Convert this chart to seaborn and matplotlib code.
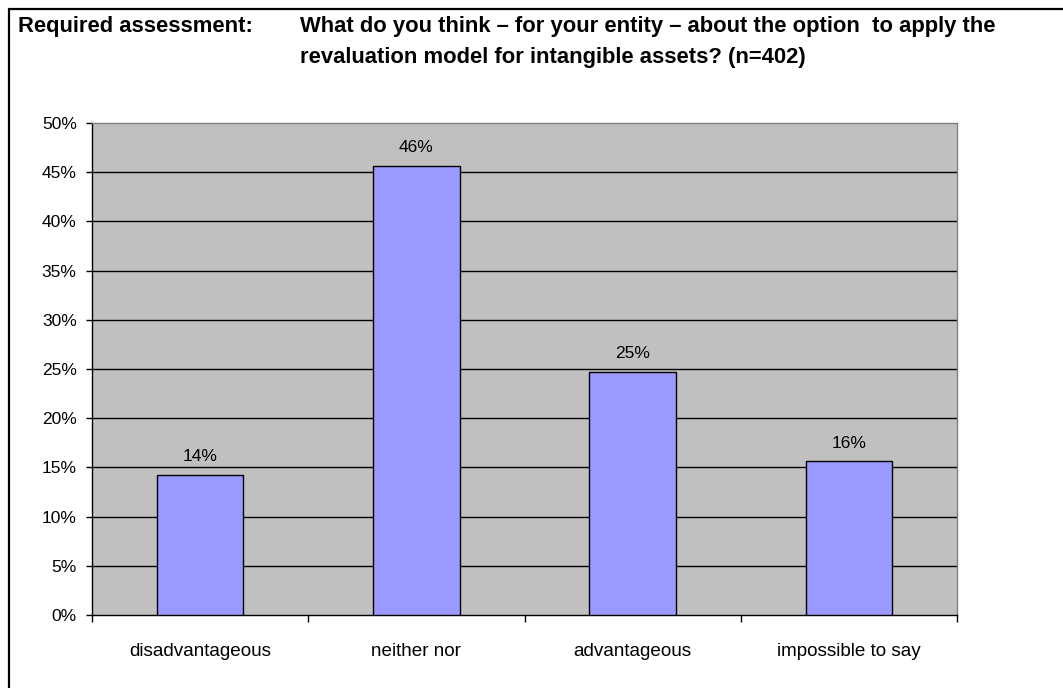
import matplotlib
matplotlib.use("Agg")
import matplotlib.pyplot as plt
from matplotlib.lines import Line2D
from matplotlib.ticker import FixedLocator, NullFormatter
import seaborn as sns
import pandas as pd

categories = ["disadvantageous", "neither nor", "advantageous", "impossible to say"]
shares = [14.2, 45.6, 24.7, 15.6]
ytick_values = [0, 5, 10, 15, 20, 25, 30, 35, 40, 45, 50]
ytick_labels = [f"{v}%" for v in ytick_values]
heading_left = "Required assessment:"
heading_lines = ["What do you think \u2013 for your entity \u2013 about the option  to apply the",
                 "revaluation model for intangible assets? (n=402)"]

sns.set_theme(style="white")
plt.rcParams["font.family"] = ["Liberation Sans", "DejaVu Sans"]

W, H = 1063, 688
fig = plt.figure(figsize=(W / 100, H / 100), dpi=100)
ax = fig.add_axes([92 / W, 1 - 615 / H, (957 - 92) / W, (615 - 123) / H])

df = pd.DataFrame({"category": categories, "share": shares})
sns.barplot(data=df, x="category", y="share", ax=ax, color="#9999FF",
            saturation=1, width=0.4, edgecolor="#000000", linewidth=1.0, zorder=3)

ax.set_facecolor("#C0C0C0")
ax.set_xlim(-0.5, len(categories) - 0.5)
ax.set_ylim(0, 50)
ax.set_yticks(ytick_values)
ax.set_yticklabels(ytick_labels, fontsize=12.5, color="#000000")
for y in ytick_values[1:-1]:
    ax.axhline(y, color="#000000", linewidth=1.0, zorder=1)

# x: major ticks at category boundaries, labels on minor ticks
ax.xaxis.set_major_locator(FixedLocator([i - 0.5 for i in range(len(categories) + 1)]))
ax.xaxis.set_major_formatter(NullFormatter())
ax.xaxis.set_minor_locator(FixedLocator(list(range(len(categories)))))
ax.set_xticklabels(categories, minor=True, fontsize=13.6, color="#000000")
ax.tick_params(axis="x", which="major", direction="out", length=5, width=1, color="#000000", bottom=True)
ax.tick_params(axis="x", which="minor", length=0, pad=20, bottom=True)
ax.tick_params(axis="y", direction="out", length=4, width=1, color="#000000", pad=7, left=True)
ax.set_xlabel("")
ax.set_ylabel("")

for side in ["left", "bottom"]:
    ax.spines[side].set_color("#000000")
    ax.spines[side].set_linewidth(1.0)
for side in ["top", "right"]:
    ax.spines[side].set_color("#808080")
    ax.spines[side].set_linewidth(1.0)

for i, v in enumerate(shares):
    ax.annotate(f"{v:.0f}%", xy=(i, v), xytext=(0, 10), textcoords="offset points",
                ha="center", va="baseline", fontsize=12.5, color="#000000")

# heading
fig.text(18 / W, 1 - 32 / H, heading_left, fontsize=15.8, fontweight="bold",
         ha="left", va="baseline", color="#000000")
for k, line in enumerate(heading_lines):
    fig.text(300 / W, 1 - (32 + 31 * k) / H, line, fontsize=15.8, fontweight="bold",
             ha="left", va="baseline", color="#000000")

# outer frame (top and left edges)
fig.add_artist(Line2D([9 / W, 1.0], [1 - 9 / H, 1 - 9 / H], transform=fig.transFigure,
                      color="#000000", linewidth=1.6))
fig.add_artist(Line2D([9 / W, 9 / W], [1 - 9 / H, 0.0], transform=fig.transFigure,
                      color="#000000", linewidth=1.6))

fig.savefig("out.png", dpi=100)
